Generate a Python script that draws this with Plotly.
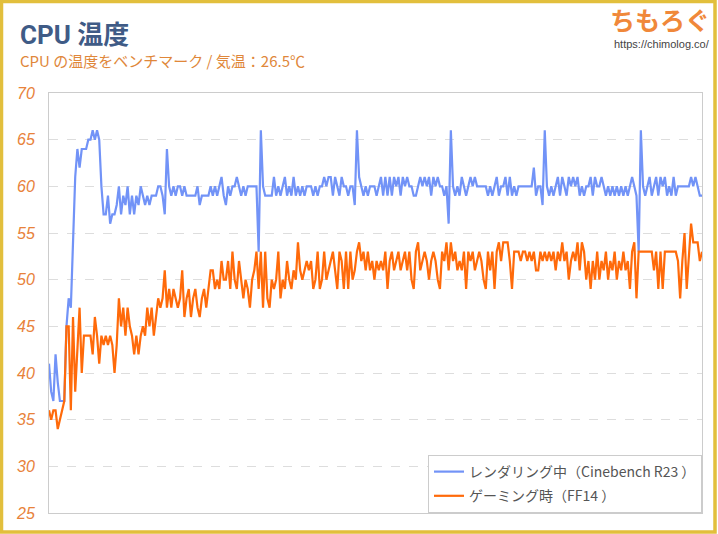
import plotly.graph_objects as go

# ---- data ----
series_names = ["レンダリング中（Cinebench R23 ）", "ゲーミング時（FF14 ）"]

cinebench_temp = [
    41, 38, 37, 42, 39, 37, 37, 37, 45, 48, 47, 55, 61, 64, 62, 64, 64, 64, 65, 65,
    66, 65, 66, 65, 60, 57, 57, 59, 56, 57, 57, 58, 60, 57, 59, 58, 60, 57, 59, 57,
    59, 58, 60, 59, 58, 59, 58, 59, 59, 59, 60, 60, 59, 57, 64, 60, 59, 60, 59, 60,
    60, 59, 60, 59, 59, 59, 59, 59, 60, 58, 59, 59, 59, 59, 60, 59, 60, 59, 60, 61,
    59, 58, 60, 59, 60, 60, 61, 60, 59, 60, 59, 60, 60, 60, 60, 60, 53, 66, 60, 59,
    59, 59, 59, 61, 59, 60, 59, 60, 61, 59, 60, 59, 61, 59, 60, 59, 60, 59, 60, 60,
    60, 59, 60, 59, 60, 60, 61, 60, 61, 61, 59, 61, 60, 59, 61, 60, 60, 59, 60, 60,
    58, 66, 61, 60, 59, 60, 59, 60, 60, 60, 59, 60, 61, 59, 61, 59, 61, 59, 61, 60,
    61, 59, 61, 60, 61, 60, 60, 59, 59, 60, 61, 60, 61, 60, 61, 59, 61, 60, 61, 60,
    60, 59, 60, 56, 66, 60, 59, 60, 59, 61, 60, 59, 60, 61, 60, 61, 60, 60, 60, 60,
    60, 59, 60, 59, 60, 61, 59, 60, 60, 61, 59, 61, 59, 60, 59, 60, 60, 60, 60, 60,
    60, 60, 62, 59, 60, 60, 58, 66, 60, 59, 60, 59, 60, 61, 59, 61, 60, 59, 61, 60,
    61, 60, 61, 59, 60, 59, 60, 60, 61, 59, 61, 60, 60, 61, 60, 59, 60, 59, 60, 59,
    60, 59, 60, 59, 60, 59, 60, 61, 60, 59, 53, 66, 60, 59, 60, 61, 59, 60, 61, 59,
    61, 60, 61, 59, 60, 59, 61, 59, 60, 60, 60, 60, 60, 60, 61, 60, 61, 60, 59, 59,
]

gaming_temp = [
    36, 35, 36, 36, 34, 35, 36, 37, 45, 45, 36, 46, 38, 42, 47, 40, 44, 44, 44, 44,
    42, 46, 44, 41, 44, 43, 44, 43, 44, 43, 40, 43, 48, 45, 47, 44, 47, 45, 44, 42,
    44, 42, 44, 45, 44, 47, 45, 47, 44, 46, 48, 47, 48, 51, 47, 49, 47, 49, 48, 47,
    48, 51, 46, 48, 49, 46, 48, 49, 47, 46, 48, 49, 47, 49, 51, 51, 49, 50, 49, 52,
    50, 50, 52, 49, 53, 50, 49, 52, 50, 48, 50, 49, 47, 50, 51, 53, 49, 53, 47, 53,
    48, 47, 50, 49, 50, 53, 48, 50, 49, 52, 50, 49, 51, 50, 54, 51, 50, 51, 52, 51,
    52, 49, 50, 53, 49, 50, 53, 50, 51, 52, 53, 51, 49, 53, 52, 49, 53, 49, 53, 50,
    51, 53, 54, 52, 53, 51, 53, 51, 52, 50, 52, 51, 52, 51, 53, 49, 52, 53, 51, 52,
    53, 51, 52, 53, 51, 53, 50, 49, 53, 54, 51, 52, 53, 52, 50, 52, 53, 52, 50, 49,
    53, 52, 54, 51, 54, 52, 53, 51, 52, 51, 53, 49, 53, 52, 53, 51, 52, 53, 52, 50,
    49, 53, 51, 53, 49, 53, 54, 52, 54, 54, 54, 52, 49, 53, 53, 53, 52, 53, 53, 52,
    53, 52, 53, 51, 51, 53, 52, 53, 52, 53, 52, 53, 51, 53, 52, 54, 52, 53, 50, 52,
    53, 52, 54, 51, 54, 53, 50, 52, 49, 52, 50, 53, 50, 52, 51, 53, 50, 52, 51, 53,
    50, 52, 51, 53, 51, 52, 49, 53, 54, 48, 53, 53, 53, 53, 53, 53, 53, 51, 53, 49,
    53, 49, 53, 53, 53, 53, 53, 53, 52, 48, 52, 55, 49, 53, 56, 54, 54, 54, 52, 53,
]

y_ticks = [25, 30, 35, 40, 45, 50, 55, 60, 65, 70]

sample_index = list(range(len(cinebench_temp)))

# ---- figure ----
W, H = 718, 534
L, R, T, B = 49, 16, 93, 21
PW, PH = W - L - R, H - T - B


def px(x):
    return (x - L) / PW


def py(y):
    return (H - B - y) / PH


fig = go.Figure()
fig.add_trace(go.Scatter(
    x=sample_index, y=cinebench_temp, mode="lines", name=series_names[0],
    legendgroup="a",
    line=dict(color="#7293F7", width=2.2),
))
fig.add_trace(go.Scatter(
    x=sample_index, y=gaming_temp, mode="lines", name=series_names[1],
    legendgroup="b",
    line=dict(color="#FF6A0A", width=2.2),
))

fig.update_layout(
    width=W, height=H,
    margin=dict(l=L, r=R, t=T, b=B),
    paper_bgcolor="white", plot_bgcolor="white",
    showlegend=True,
    legend=dict(
        x=1, xanchor="right", y=0, yanchor="bottom",
        bgcolor="white", bordercolor="#cccccc", borderwidth=1,
        font=dict(family="Noto Sans CJK JP", size=14, color="#555555"),
        itemwidth=30, tracegroupgap=3,
    ),
    xaxis=dict(
        range=[0, len(sample_index) - 1], showticklabels=False, showgrid=False,
        zeroline=False, showline=True, linecolor="#cccccc", linewidth=1, mirror=True,
        ticks="",
    ),
    yaxis=dict(
        range=[25, 70], tickvals=y_ticks, ticktext=[f"<i>{v}</i>" for v in y_ticks],
        showgrid=True, gridcolor="#dddddd", griddash="dash", gridwidth=1,
        zeroline=False, showline=True, linecolor="#cccccc", linewidth=1, mirror=True,
        ticks="", ticklabelstandoff=10,
        tickfont=dict(family="Liberation Sans", size=16, color="#E8823A", style="italic"),
    ),
    font=dict(family="Noto Sans CJK JP"),
)

annotations = [
    dict(text="<b>CPU 温度</b>", x=px(18), y=py(35), xanchor="left", yanchor="middle",
         font=dict(family="Roboto, Noto Sans CJK JP", size=26, color="#3F5B86")),
    dict(text="CPU の温度をベンチマーク / 気温：26.5℃", x=px(18), y=py(60),
         xanchor="left", yanchor="middle",
         font=dict(family="Noto Sans CJK JP", size=15, color="#E0873A")),
    dict(text="<b>ちもろぐ</b>", x=px(712), y=py(19), xanchor="right", yanchor="middle",
         font=dict(family="Noto Sans CJK JP", size=25, color="#F0883A")),
    dict(text="https://chimolog.co/", x=px(712), y=py(44), xanchor="right", yanchor="middle",
         font=dict(family="Liberation Sans", size=11, color="#444444")),
]
for a in annotations:
    a.update(xref="paper", yref="paper", showarrow=False)
fig.update_layout(annotations=annotations)

fig.add_shape(type="rect", xref="paper", yref="paper",
              x0=px(1.5), x1=px(715), y0=py(1.5), y1=py(532),
              line=dict(color="#E2BF3C", width=3.5), fillcolor="rgba(0,0,0,0)", layer="above")

fig.write_html("out.html", config={"displayModeBar": False},
               post_script="document.body.style.margin='0px';")
